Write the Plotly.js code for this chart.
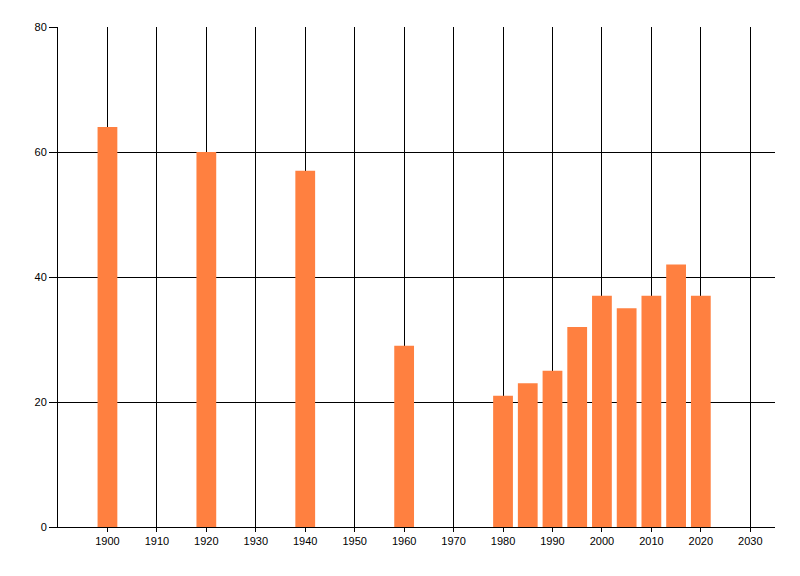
<!DOCTYPE html>
<html>
<head>
<meta charset="utf-8">
<script src="https://cdn.plot.ly/plotly-3.0.1.min.js"></script>
<style>html,body{margin:0;padding:0;background:#fff;}#chart{width:800px;height:576px;}</style>
</head>
<body>
<div id="chart"></div>
<script>
var years = [1900, 1920, 1940, 1960, 1980, 1985, 1990, 1995, 2000, 2005, 2010, 2015, 2020];
var values = [64, 60, 57, 29, 21, 23, 25, 32, 37, 35, 37, 42, 37];
var xTicks = [1900, 1910, 1920, 1930, 1940, 1950, 1960, 1970, 1980, 1990, 2000, 2010, 2020, 2030];
var yTicks = [0, 20, 40, 60, 80];

var trace = {
  type: 'bar',
  x: years,
  y: values,
  width: 4,
  marker: {color: 'rgb(255,128,64)', line: {width: 0}},
  hoverinfo: 'none'
};

var layout = {
  width: 800,
  height: 576,
  margin: {l: 58, r: 25, t: 27, b: 49, pad: 0},
  paper_bgcolor: '#fff',
  plot_bgcolor: '#fff',
  showlegend: false,
  font: {family: 'Liberation Sans, Arial, sans-serif', size: 11, color: '#000'},
  xaxis: {
    range: [1890, 2035],
    tickmode: 'array',
    tickvals: xTicks,
    ticktext: xTicks.map(String),
    showgrid: true,
    gridcolor: '#000',
    gridwidth: 1,
    zeroline: false,
    showline: true,
    linecolor: '#000',
    linewidth: 1,
    ticks: 'outside',
    ticklen: 4,
    tickcolor: '#000',
    tickfont: {size: 11, color: '#000'}
  },
  yaxis: {
    range: [0, 80],
    tickmode: 'array',
    tickvals: yTicks,
    ticktext: yTicks.map(String),
    showgrid: true,
    gridcolor: '#000',
    gridwidth: 1,
    zeroline: false,
    showline: true,
    linecolor: '#000',
    linewidth: 1,
    ticks: 'outside',
    ticklen: 8,
    tickcolor: '#000',
    tickfont: {size: 11, color: '#000'}
  }
};

Plotly.newPlot('chart', [trace], layout, {displayModeBar: false, staticPlot: true});
</script>
</body>
</html>
